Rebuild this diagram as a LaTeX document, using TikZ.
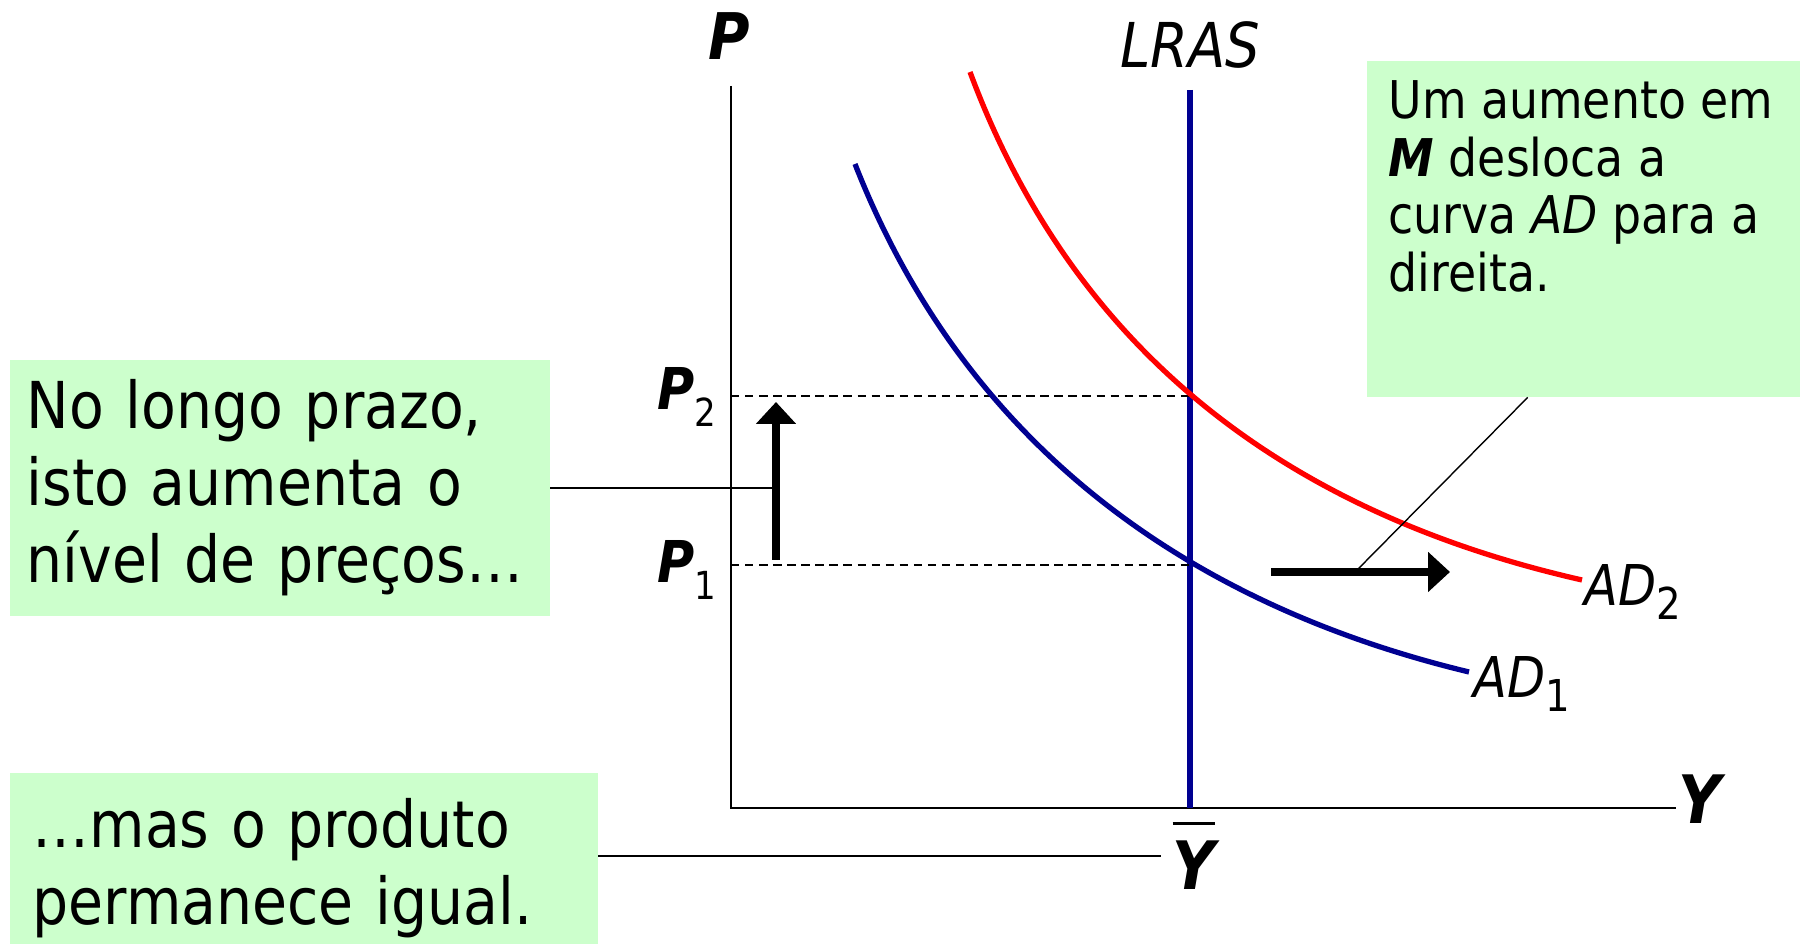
\documentclass[tikz,border=0pt]{standalone}
\usepackage{fontspec}
\setmainfont{DejaVu Sans}[FakeStretch=0.88]
\usetikzlibrary{arrows.meta,calc}
\definecolor{boxgreen}{RGB}{204,255,204}
\definecolor{adblue}{RGB}{0,0,145}
\tikzstyle{gbox}=[fill=boxgreen,inner xsep=0.23cm,anchor=north west]
\tikzstyle{lbl}=[inner sep=0pt,anchor=base]
\tikzstyle{guide}=[line width=0.45pt,dash pattern=on 2.4pt off 1.6pt]
\tikzstyle{lead}=[line width=0.5pt]
\tikzstyle{movearrow}=[-{Triangle[length=0.22cm,width=0.39cm]},line width=2pt]
\newcommand{\bigtxt}{\fontsize{18.4pt}{21.9pt}\selectfont}
\newcommand{\smalltxt}{\fontsize{14.8pt}{16.4pt}\selectfont}
\newcommand{\lblsize}[1]{\fontsize{#1}{#1}\selectfont}
\newcommand{\barY}{\setbox0=\hbox{\lblsize{19pt}\bfseries\itshape Y}%
  \rlap{\raisebox{\dimexpr\ht0+0.16cm\relax}{\rule{\wd0}{0.9pt}}}\box0}

\begin{document}
\begin{tikzpicture}
\useasboundingbox (0,0) rectangle (18,9.44);
% axes
\coordinate (O) at (7.31,1.36);
\coordinate (ptop) at (7.31,8.58);
\coordinate (yend) at (16.76,1.36);
\draw[line width=0.6pt] (ptop) -- (O) -- (yend);
\node[lbl] (P) at (7.29,8.84) {\lblsize{18.3pt}\bfseries\itshape P};
\node[lbl] (Y) at (17.00,1.20) {\lblsize{19pt}\bfseries\itshape Y};
% LRAS
\coordinate (ltop) at (11.90,8.54);
\coordinate (lbot) at (11.90,1.36);
\draw[adblue,line width=1.5pt] (ltop) -- (lbot);
\node[lbl] (LRAS) at (11.90,8.76) {\lblsize{17.6pt}\itshape LRAS};
\node[lbl] (ybar) at (11.94,0.54) {\barY};
% price levels
\coordinate (e2) at (11.90,5.48);
\coordinate (e1) at (11.90,3.79);
\draw[guide] (O |- e2) -- (e2);
\draw[guide] (O |- e1) -- (e1);
\node[lbl,anchor=base west] (P2) at (6.57,5.34) {{\lblsize{16.4pt}\bfseries\itshape P}\raisebox{-0.17cm}{\lblsize{11pt}2}};
\node[lbl,anchor=base west] (P1) at (6.57,3.61) {{\lblsize{16.4pt}\bfseries\itshape P}\raisebox{-0.17cm}{\lblsize{11pt}1}};
% AD curves
\draw[adblue,line width=1.5pt] (8.55,7.80) .. controls (9.58,5.17) and (11.66,3.45) .. (14.69,2.72);
\draw[red,line width=1.5pt] (9.70,8.72) .. controls (10.70,6.03) and (12.74,4.34) .. (15.82,3.64);
\node[lbl,anchor=base west] (AD1) at (14.73,2.46) {{\lblsize{16pt}\itshape AD}\raisebox{-0.14cm}{\lblsize{12.5pt}1}};
\node[lbl,anchor=base west] (AD2) at (15.84,3.38) {{\lblsize{16pt}\itshape AD}\raisebox{-0.14cm}{\lblsize{12.5pt}2}};
% shift arrows
\coordinate (ua) at (7.76,3.84);
\coordinate (ub) at (7.76,5.42);
\draw[movearrow] (ua) -- (ub);
\coordinate (sa) at (12.71,3.72);
\coordinate (sb) at (14.50,3.72);
\draw[movearrow] (sa) -- (sb);
% boxes
\node[gbox,font=\bigtxt,align=left,inner xsep=0.17cm,text width=5.06cm,minimum height=2.56cm] (lp) at (0.09,5.85)
  {No longo prazo,\\ isto aumenta o\\ nível de preços…};
\node[gbox,font=\bigtxt,align=left,text width=5.42cm,minimum height=1.90cm] (lq) at (0.09,1.72)
  {…mas o produto\\ permanece igual.};
\node[gbox,inner xsep=0.22cm,inner ysep=0.2cm] (rm) at (13.66,8.84)
  {\parbox[t][2.96cm][t]{3.90cm}{\smalltxt Um aumento em\\ {\bfseries\itshape M} desloca a\\ curva {\itshape AD} para a\\ direita.}};
% leaders
\draw[lead] (lp.east) -- (lp.east -| ua);
\draw[lead,line width=0.6pt,shorten >=3pt] (lq.east |- ybar.west) -- (ybar.west);
\draw[lead,line width=0.4pt] ([xshift=-0.56cm]rm.south) -- ($(sa)!0.47!(sb)$);
\end{tikzpicture}
\end{document}
